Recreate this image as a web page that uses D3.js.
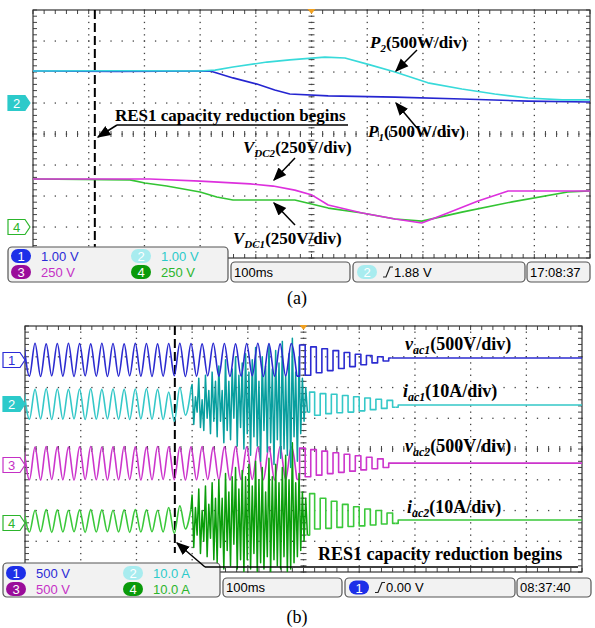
<!DOCTYPE html>
<html lang="en">
<head>
<meta charset="UTF-8" />
<script src="https://d3js.org/d3.v7.min.js"></script>
<style>
  body { margin: 0; background: #fff; }
  svg { display: block; }
  .ann { font-family: "Liberation Serif", "Times New Roman", serif; font-weight: bold; font-size: 17px; fill: #000; }
  .annB { font-size: 18px; }
  .stat { font-family: "Liberation Sans Narrow", "Arial Narrow", "Liberation Sans", sans-serif; font-size: 13px; }
  .cap { font-family: "Liberation Serif", "Times New Roman", serif; font-size: 18px; }
</style>
</head>
<body>
<svg width="595" height="628"></svg>
<script>
// ---- panel (a): [time ms, divisions] ----
const p2Trace = [[0,2.03],[150,2.04],[300,2.03],[327,2.06],[359,2.16],[420,2.32],[461,2.39],[524,2.48],
  [560,2.45],[605,2.23],[650,2.0],[709,1.65],[770,1.45],[829,1.29],[889,1.16],[950,1.1],[1000,1.1]];
const p1Trace = [[0,2.03],[150,2.02],[318,2.03],[330,1.97],[359,1.81],[402,1.61],[434,1.42],[461,1.29],
  [530,1.23],[650,1.19],[770,1.13],[889,1.06],[1000,1.03]];
const vdc2Trace = [[0,-1.45],[210,-1.45],[300,-1.52],[390,-1.61],[431,-1.68],[470,-1.81],[501,-1.97],
  [530,-2.29],[591,-2.55],[650,-2.74],[698,-2.87],[740,-2.58],[799,-2.16],[853,-1.84],[1000,-1.84]];
const vdc1Trace = [[0,-1.45],[174,-1.48],[201,-1.58],[240,-1.68],[300,-1.87],[330,-2.03],[359,-2.13],
  [470,-2.13],[530,-2.39],[591,-2.55],[650,-2.74],[698,-2.81],[770,-2.52],[860,-2.19],[960,-1.87],[1000,-1.84]];

// ---- panel (b): extremes, half-cycle 10 ms from -2 ms; bursts 3 ms from 300 ms ----
const halfCycle = 10, burstStep = 3;
const vac1Calm = [3.43,2.37,3.44,2.36,3.42,2.38,3.43,2.37,3.44,2.36, 3.43,2.38,3.42,2.37,3.44,2.36,3.43,2.37,3.42,2.38,
  3.44,2.37,3.43,2.36,3.42,2.37,3.43,2.38,3.44,2.36, 3.43,2.37,3.42,2.38,3.44,2.37,3.43,2.36,3.42,2.37,
  3.43,2.38,3.44,2.36,3.43,2.37,3.42,2.38,3.43,2.37];
const vac1Tail = [3.38,2.40,3.32,2.48,3.26,2.55,3.20,2.62,3.14,2.68,3.08,2.74,3.04,2.80,3.00,2.86,2.96];
const vac1Flat = 2.96;

const iac1Calm = [1.95,0.97,1.94,0.98,1.96,0.96,1.95,0.97,1.94,0.98, 1.95,0.96,1.96,0.97,1.94,0.98,1.95,0.97,1.94,0.96,
  1.95,0.98,1.96,0.97,1.94,0.96,1.85,0.9,2.0,1.1,1.95];
const iac1Burst = [2.1,0.8,1.7,1.2,2.3,0.7,1.6,0.6,2.4,1.0,1.9,0.5,2.5,0.9,2.2,
  0.4,2.7,0.9,1.9,0.2,2.9,0.6,2.2,0.3,2.6,1.0,3.0,0.1,2.4,0.7,2.8,0.0,
  3.1,0.5,2.5,-0.2,2.9,0.4,3.3,0.1,2.2,-0.4,3.0,0.6,2.7,-0.1,3.4,0.2,2.6,-0.5,3.2,0.3,2.8,-0.3,3.5,0.0,2.4,-0.2,3.1,
  -0.6,3.6,0.4,2.5,-0.4,3.0,0.5,2.3,0.9,2.0,1.2];
const iac1Tail = [1.85,1.1,1.8,1.15,1.78,1.18,1.74,1.2,1.7,1.24,1.66,1.28,1.62,1.32,1.58,1.36];
const iac1Flat = 1.43;

const vac2Calm = [0.07,-1.0,0.06,-1.01,0.08,-0.99,0.07,-1.0,0.06,-1.01, 0.07,-0.99,0.08,-1.0,0.06,-1.01,0.07,-1.0,0.08,-0.99,
  0.07,-1.01,0.06,-1.0,0.08,-0.99,0.07,-1.0,0.06,-1.01, 0.07,-1.0,0.08,-0.99,0.06,-1.0,0.07,-1.01,0.08,-1.0,
  0.07,-0.99,0.06,-1.0,0.07,-1.01,0.08,-1.0,0.07,-0.99];
const vac2Tail = [0.03,-0.9,-0.02,-0.85,-0.07,-0.8,-0.12,-0.76,-0.17,-0.72,-0.22,-0.68,-0.27,-0.64,-0.32,-0.6];
const vac2Flat = -0.46;

const iac2Calm = [-1.98,-2.70,-1.99,-2.69,-1.97,-2.71,-1.98,-2.70,-1.99,-2.69, -1.98,-2.71,-1.97,-2.70,-1.98,-2.69,-1.99,-2.70,-1.98,-2.71,
  -1.97,-2.70,-1.98,-2.69,-1.99,-2.70,-1.9,-2.75,-1.85,-2.6,-1.95];
const iac2Burst = [-1.5,-3.2,-1.9,-2.8,-1.3,-3.4,-2.0,-3.0,-1.2,-3.5,-1.8,-2.9,-1.1,-3.6,-1.6,
  -3.7,-1.0,-3.2,-1.6,-3.9,-0.8,-3.3,-1.4,-3.8,-0.9,-3.1,-0.6,-3.9,-1.3,-3.6,-0.7,-4.0,
  -0.9,-3.6,-0.5,-3.9,-1.2,-3.4,-0.4,-4.0,-1.0,-3.7,-0.6,-3.9,-1.4,-3.5,-0.3,-4.0,-0.9,-3.6,-0.5,-3.8,-1.1,-3.9,-0.6,-3.5,-0.2,-4.0,-1.0,
  -3.9,0.2,-3.7,-1.1,-3.5,-0.8,-3.3,-1.4,-3.0,-1.6,-2.8];
const iac2Tail = [-1.45,-2.6,-1.6,-2.58,-1.7,-2.55,-1.8,-2.52,-1.88,-2.5,-1.95,-2.47,-2.0,-2.44,-2.08,-2.42];
const iac2Flat = -2.31;

const statusA = { ch: [["1","1.00 V"],["2","1.00 V"],["3","250 V"],["4","250 V"]], time: "100ms", trig: ["2","1.88 V"], clock: "17:08:37" };
const statusB = { ch: [["1","500 V"],["2","10.0 A"],["3","500 V"],["4","10.0 A"]], time: "100ms", trig: ["1","0.00 V"], clock: "08:37:40" };

const chColor = { "1": "#2b2bd6", "2": "#2ccaca", "3": "#c530c5", "4": "#2cb52c" };
const badgeColor = { "1": "#1d2fe8", "2": "#a8ecef", "3": "#9a0c9a", "4": "#0a9a0a" };

const svg = d3.select("svg");
const defs = svg.append("defs");
defs.append("marker").attr("id", "arr").attr("viewBox", "0 0 10 10").attr("refX", 9).attr("refY", 5)
  .attr("markerWidth", 9).attr("markerHeight", 9).attr("orient", "auto-start-reverse")
  .append("path").attr("d", "M0,1 L10,5 L0,9 z").attr("fill", "#000");

function makePanel(id, left, right, top, bottom) {
  const x = d3.scaleLinear().domain([0, 1000]).range([left, right]);
  const y = d3.scaleLinear().domain([-4, 4]).range([bottom, top]);
  const g = svg.append("g");
  defs.append("clipPath").attr("id", id).append("rect")
    .attr("x", left).attr("y", top).attr("width", right - left).attr("height", bottom - top);
  // dotted graticule
  const minX = d3.range(0, 1001, 20), minY = d3.range(-4, 4.001, 0.2);
  const dots = [];
  d3.range(100, 1000, 100).forEach(t => minY.forEach(v => dots.push([t, v])));
  d3.range(-3, 4, 1).forEach(v => minX.forEach(t => dots.push([t, v])));
  g.selectAll(".dot").data(dots).join("rect")
    .attr("x", d => x(d[0]) - 0.6).attr("y", d => y(d[1]) - 0.6)
    .attr("width", 1.3).attr("height", 1.3).attr("fill", "#444");
  // ticks on border and centre lines
  const tk = g.append("g").attr("stroke", "#444").attr("stroke-width", 1);
  minX.forEach(t => {
    tk.append("line").attr("x1", x(t)).attr("x2", x(t)).attr("y1", top).attr("y2", top + 4);
    tk.append("line").attr("x1", x(t)).attr("x2", x(t)).attr("y1", bottom).attr("y2", bottom - 4);
    tk.append("line").attr("x1", x(t)).attr("x2", x(t)).attr("y1", y(0) - 3).attr("y2", y(0) + 3);
  });
  minY.forEach(v => {
    tk.append("line").attr("x1", left).attr("x2", left + 4).attr("y1", y(v)).attr("y2", y(v));
    tk.append("line").attr("x1", right).attr("x2", right - 4).attr("y1", y(v)).attr("y2", y(v));
    tk.append("line").attr("x1", x(500) - 3).attr("x2", x(500) + 3).attr("y1", y(v)).attr("y2", y(v));
  });
  g.append("rect").attr("x", left).attr("y", top).attr("width", right - left).attr("height", bottom - top)
    .attr("fill", "none").attr("stroke", "#333").attr("stroke-width", 1.2);
  // trigger position marker
  g.append("path").attr("d", `M${x(500) - 4},${top - 1} h8 l-4,5 z`).attr("fill", "#f0a020");
  const traces = svg.append("g").attr("clip-path", `url(#${id})`);
  return { x, y, g, traces };
}

function trace(p, pts, color, curve, w) {
  p.traces.append("path").datum(pts)
    .attr("d", d3.line().x(d => p.x(d[0])).y(d => p.y(d[1])).curve(curve || d3.curveLinear))
    .attr("fill", "none").attr("stroke", color).attr("stroke-width", w || 1.6).attr("stroke-linejoin", "round");
}
const seq = (t0, dt, vals) => vals.map((v, i) => [t0 + i * dt, v]);

function chMarker(yPos, x0, num, filled) {
  const g = svg.append("g").attr("transform", `translate(${x0},${yPos})`);
  g.append("path").attr("d", "M0,-7.5 H17 L22,0 L17,7.5 H0 Z")
    .attr("fill", filled ? chColor[num] : "#fff").attr("stroke", chColor[num]).attr("stroke-width", 1.2);
  g.append("text").attr("x", 8.5).attr("y", 5).attr("text-anchor", "middle").attr("class", "stat")
    .attr("font-size", 14).attr("fill", filled ? "#fff" : chColor[num]).text(num);
}

function badge(x0, yc, num) {
  svg.append("rect").attr("x", x0).attr("y", yc - 7).attr("width", 20).attr("height", 14).attr("rx", 7)
    .attr("fill", badgeColor[num]);
  svg.append("text").attr("class", "stat").attr("x", x0 + 10).attr("y", yc + 5).attr("text-anchor", "middle")
    .attr("fill", "#fff").text(num);
}

function statusBar(s, box, rows, x100, xTrig, xClock, yTop2, right, x2col) {
  const [bx, by, bw, bh] = box;
  const frame = (x0, y0, w, h) => svg.append("rect").attr("x", x0).attr("y", y0).attr("width", w).attr("height", h)
    .attr("rx", 4).attr("fill", "#f2f2f2").attr("stroke", "#555").attr("stroke-width", 1.2);
  frame(bx, by, bw, bh);
  const colsX = [bx + 3, x2col];
  s.ch.forEach((c, i) => {
    const col = i % 2, row = Math.floor(i / 2);
    badge(colsX[col], rows[row], c[0]);
    svg.append("text").attr("class", "stat").attr("x", colsX[col] + 30).attr("y", rows[row] + 5)
      .attr("fill", chColor[c[0]]).text(c[1]);
  });
  const h2 = by + bh - yTop2;
  frame(x100[0], yTop2, x100[1] - x100[0], h2);
  svg.append("text").attr("class", "stat").attr("x", x100[0] + 3).attr("y", yTop2 + h2 - 5).text(s.time);
  frame(xTrig[0], yTop2, xTrig[1] - xTrig[0], h2);
  badge(xTrig[0] + 4, yTop2 + h2 / 2, s.trig[0]);
  const gx = xTrig[0] + 30, gy = yTop2 + h2 / 2;
  svg.append("path").attr("d", `M${gx},${gy + 5} h3 l4,-10 h3`).attr("fill", "none").attr("stroke", "#222").attr("stroke-width", 1.2);
  svg.append("text").attr("class", "stat").attr("x", gx + 11).attr("y", yTop2 + h2 - 5).text(s.trig[1]);
  frame(xClock, yTop2, right - xClock, h2);
  svg.append("text").attr("class", "stat").attr("x", xClock + 3).attr("y", yTop2 + h2 - 5).text(s.clock);
}

function label(x0, y0, main, sub, rest, cls) {
  const t = svg.append("text").attr("class", "ann " + (cls || "")).attr("x", x0).attr("y", y0);
  t.append("tspan").attr("font-style", "italic").text(main);
  t.append("tspan").attr("font-style", "italic").attr("font-size", cls ? 12 : 11).attr("dy", 4).text(sub);
  t.append("tspan").attr("dy", -4).text(rest);
}
function arrow(x1, y1, x2, y2) {
  svg.append("line").attr("x1", x1).attr("y1", y1).attr("x2", x2).attr("y2", y2)
    .attr("stroke", "#000").attr("stroke-width", 1.5).attr("marker-end", "url(#arr)");
}

// ---------- panel (a) ----------
const A = makePanel("clipA", 33, 590, 10, 258);
trace(A, vdc1Trace, "#33c433");
trace(A, vdc2Trace, "#dd30dd");
trace(A, p1Trace, "#2525d0");
trace(A, p2Trace, "#38dada");
A.g.append("line").attr("x1", A.x(111)).attr("x2", A.x(111)).attr("y1", 10).attr("y2", 247)
  .attr("stroke", "#000").attr("stroke-width", 2).attr("stroke-dasharray", "9,4");
chMarker(103, 8, "2", true);
chMarker(227, 8, "4", false);
statusBar(statusA, [8, 247, 220, 35], [256, 272], [231, 350], [353, 525], 527, 262, 590, 131);

label(370, 48, "P", "2", "(500W/div)");
arrow(417, 50, 396, 71);
label(368, 137, "P", "1", "(500W/div)");
arrow(417, 128, 396, 103);
svg.append("text").attr("class", "ann").attr("x", 115).attr("y", 121).text("RES1 capacity reduction begins");
svg.append("line").attr("x1", 117).attr("x2", 348).attr("y1", 125).attr("y2", 125).attr("stroke", "#000").attr("stroke-width", 1.3);
arrow(117, 125, 98, 137);
label(243, 153, "V", "DC2", "(250V/div)");
arrow(295, 158, 274, 180);
label(233, 244, "V", "DC1", "(250V/div)");
arrow(295, 225, 274, 203);
svg.append("text").attr("class", "cap").attr("x", 297).attr("y", 304).attr("text-anchor", "middle").text("(a)");

// ---------- panel (b) ----------
const B = makePanel("clipB", 25, 582, 326, 572);
function acTrace(calm, tail, flat, color, burst, burstColor) {
  const calmPts = seq(-2, halfCycle, calm);
  trace(B, calmPts, color, d3.curveMonotoneX);
  let last = calmPts[calmPts.length - 1];
  let tailStart = -2 + halfCycle * calm.length;
  if (burst) {
    const bp = seq(300, burstStep, burst);
    trace(B, [last].concat(bp), burstColor, d3.curveLinear, 1.5);
    last = bp[bp.length - 1];
    tailStart = 300 + burstStep * burst.length + 5;
  }
  const tp = seq(tailStart, halfCycle, tail);
  trace(B, [last].concat(tp), color, d3.curveStep);
  const end = tp[tp.length - 1][0];
  trace(B, [[end, tp[tp.length - 1][1]], [end + halfCycle, flat], [1000, flat]], color, d3.curveStep);
}
acTrace(vac2Calm, vac2Tail, vac2Flat, "#cc35cc");
acTrace(iac2Calm, iac2Tail, iac2Flat, "#3ac83a", iac2Burst, "#0a9e0a");
acTrace(iac1Calm, iac1Tail, iac1Flat, "#35c8c8", iac1Burst, "#089f9f");
acTrace(vac1Calm, vac1Tail, vac1Flat, "#2b2bd0");
B.g.append("line").attr("x1", B.x(269)).attr("x2", B.x(269)).attr("y1", 326).attr("y2", 553)
  .attr("stroke", "#000").attr("stroke-width", 2).attr("stroke-dasharray", "9,4");
chMarker(360, 3, "1", false);
chMarker(404, 3, "2", true);
chMarker(465, 3, "3", false);
chMarker(523, 3, "4", false);

label(405, 350, "v", "ac1", "(500V/div)", "annB");
label(403, 397, "i", "ac1", "(10A/div)", "annB");
label(405, 452, "v", "ac2", "(500V/div)", "annB");
label(407, 513, "i", "ac2", "(10A/div)", "annB");
svg.append("text").attr("class", "ann annB").attr("x", 318).attr("y", 560).text("RES1 capacity reduction begins");
statusBar(statusB, [3, 563, 217, 34], [573, 589], [223, 342], [345, 515], 517, 578, 591, 123);
svg.append("line").attr("x1", 205).attr("x2", 578).attr("y1", 567).attr("y2", 567).attr("stroke", "#000").attr("stroke-width", 1.3);
arrow(205, 567, 177, 543);
svg.append("text").attr("class", "cap").attr("x", 297).attr("y", 623).attr("text-anchor", "middle").text("(b)");
</script>
</body>
</html>
